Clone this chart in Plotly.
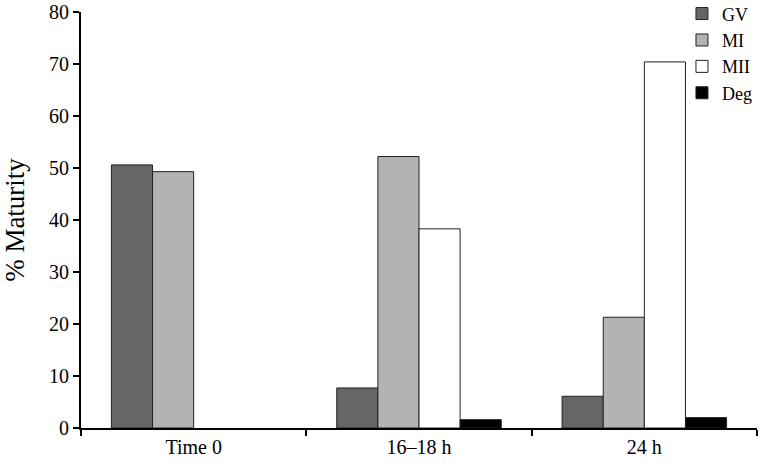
import plotly.graph_objects as go

categories = ["Time 0", "16\u201318 h", "24 h"]
series_names = ["GV", "MI", "MII", "Deg"]
gv = [50.6, 7.7, 6.1]
mi = [49.3, 52.2, 21.3]
mii = [0.0, 38.3, 70.4]
deg = [0.0, 1.6, 2.0]
y_ticks = [0, 10, 20, 30, 40, 50, 60, 70, 80]

colors = ["#666666", "#b3b3b3", "#ffffff", "#000000"]
values = [gv, mi, mii, deg]

fig = go.Figure()
for name, vals, col in zip(series_names, values, colors):
    fig.add_trace(go.Bar(
        x=categories, y=[v if v > 0 else None for v in vals], name=name,
        marker=dict(color=col, line=dict(color="#222222", width=1)),
    ))

font = "Liberation Serif, Times New Roman, serif"
fig.update_layout(
    width=761, height=466,
    margin=dict(l=81, r=4, t=12, b=38, autoexpand=False),
    paper_bgcolor="white", plot_bgcolor="white",
    barmode="group", bargap=0.27, bargroupgap=0,
    font=dict(family=font, size=20, color="black"),
    showlegend=True,
    legend=dict(x=0.889, y=1.04, xanchor="left", yanchor="top",
                font=dict(size=18, family=font), bgcolor="rgba(0,0,0,0)",
                tracegroupgap=0, itemwidth=30),
    xaxis=dict(showline=True, linecolor="black", linewidth=2,
               ticks="outside", tickson="boundaries", ticklen=6,
               tickwidth=2, tickcolor="black", showgrid=False,
               tickfont=dict(size=20)),
    yaxis=dict(range=[0, 80], tickvals=y_ticks, showline=True,
               linecolor="black", linewidth=2, ticks="outside",
               ticklen=6, tickwidth=2, tickcolor="black", showgrid=False,
               zeroline=False, tickfont=dict(size=20),
               ticklabeloverflow="allow",
               title=dict(text="% Maturity", font=dict(size=27), standoff=36)),
)

fig.write_html("out.html",
               config={"displayModeBar": False},
               post_script="document.body.style.margin='0';document.body.style.overflow='hidden';")
